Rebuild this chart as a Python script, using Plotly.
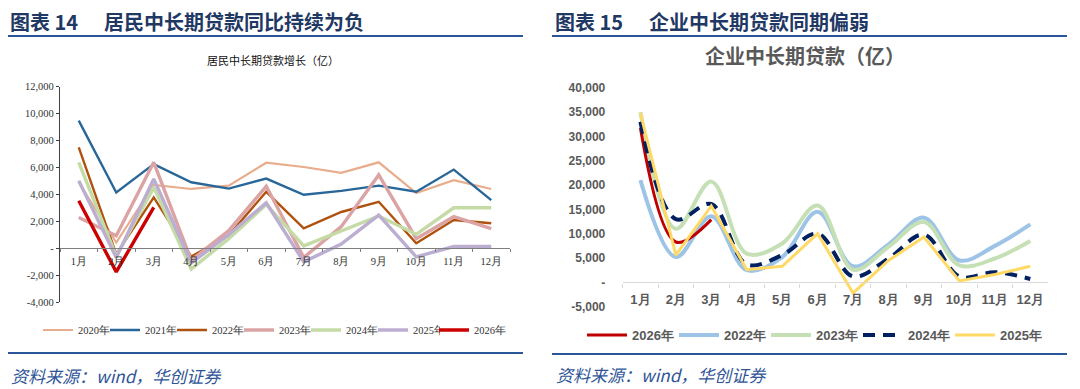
import plotly.graph_objects as go

# ---------------- data ----------------
months = ["1月", "2月", "3月", "4月", "5月", "6月", "7月", "8月", "9月", "10月", "11月", "12月"]

# 居民中长期贷款增长（亿）
hh_2020 = [4900, 420, 4700, 4400, 4650, 6350, 6030, 5600, 6380, 4100, 5050, 4400]
hh_2021 = [9480, 4140, 6250, 4900, 4430, 5170, 3970, 4260, 4650, 4200, 5840, 3570]
hh_2022 = [7490, -450, 3770, -620, 950, 4190, 1480, 2690, 3450, 370, 2090, 1850]
hh_2023 = [2280, 920, 6380, -900, 1300, 4600, -690, 1600, 5440, 710, 2340, 1450]
hh_2024 = [6380, -600, 4520, -1550, 700, 3250, 170, 1280, 2390, 1030, 3000, 3000]
hh_2025 = [5010, -700, 5140, -1100, 1000, 3370, -1010, 300, 2460, -640, 120, 120]
hh_2026 = [3520, -1760, 3030, None, None, None, None, None, None, None, None, None]

# 企业中长期贷款（亿）
co_2026 = [31700, 8300, 12900, None, None, None, None, None, None, None, None, None]
co_2022 = [21000, 5200, 13600, 2500, 5200, 14500, 3300, 7800, 13300, 4500, 7500, 11900]
co_2023 = [35000, 11000, 20700, 5900, 8000, 15800, 2600, 7300, 12400, 3500, 4900, 8500]
co_2024 = [33000, 13000, 16100, 3700, 5600, 10000, 1200, 4900, 9800, 1200, 2100, 700]
co_2025 = [34800, 5600, 15700, 2600, 3300, 10000, -2200, 4500, 9300, 300, 1600, 3300]

left_ticks = [-4000, -2000, 0, 2000, 4000, 6000, 8000, 10000, 12000]
right_ticks = [-5000, 0, 5000, 10000, 15000, 20000, 25000, 30000, 35000, 40000]

# ---------------- layout geometry ----------------
# the page body adds an 8px margin; the figure is sized / placed to compensate
OFF = 8
W, H = 1080 - OFF, 389 - OFF
def py(px):
    return 1 - (px - OFF) / H
def px_x(px):
    return (px - OFF) / W

L_dom_x = [px_x(60), px_x(510)]
L_dom_y = [py(302), py(86.7)]
L_rng = [-4000, 12000]
R_dom_x = [px_x(622.7), px_x(1048)]
R_dom_y = [py(306.7), py(87.7)]
R_rng = [-5000, 40000]

def zero_pos(dom, rng):
    return dom[0] + (0 - rng[0]) / (rng[1] - rng[0]) * (dom[1] - dom[0])

def fmt(v):
    if v == 0:
        return "-"
    return f"{v:,}"

fig = go.Figure()

serif = "Liberation Serif, Times New Roman, serif"
sans = "Liberation Sans, Arial, sans-serif"
cjk = "Noto Sans CJK SC"

left_series = [
    ("2020年", hh_2020, "#E9AC8C", 2.2, "legend"),
    ("2021年", hh_2021, "#2A6799", 2.4, "legend"),
    ("2022年", hh_2022, "#B0520F", 2.4, "legend"),
    ("2023年", hh_2023, "#DBA3A3", 3.4, "legend"),
    ("2024年", hh_2024, "#C5DBA6", 3.4, "legend"),
    ("2025年", hh_2025, "#BBAED1", 3.4, "legend"),
    ("2026年", hh_2026, "#CC0000", 3.4, "legend3"),
]
for name, vals, col, w, lg in left_series:
    fig.add_trace(go.Scatter(x=months, y=vals, name=name, mode="lines",
                             line=dict(color=col, width=w),
                             xaxis="x", yaxis="y", legend=lg,
                             connectgaps=False))

right_series = [  # (name, values, color, width, shape, dash, legendrank)
    ("2022年", co_2022, "#9DC3E6", 4, "spline", "solid", 2),
    ("2023年", co_2023, "#C5E0B4", 4, "spline", "solid", 3),
    ("2026年", co_2026, "#C00000", 3, "spline", "solid", 1),
    ("2024年", co_2024, "#002060", 4, "spline", "12px,8px", 4),
    ("2025年", co_2025, "#FFD966", 3, "linear", "solid", 5),
]
for name, vals, col, w, shp, dsh, rk in right_series:
    fig.add_trace(go.Scatter(x=months, y=vals, name=name, mode="lines",
                             line=dict(color=col, width=w, shape=shp, dash=dsh),
                             xaxis="x2", yaxis="y2", legend="legend2",
                             legendrank=rk, connectgaps=False))

left_leg_font = dict(family=serif, size=10.5, color="#333333")
fig.update_layout(
    template="none",
    width=W, height=H,
    margin=dict(l=0, r=0, t=0, b=0, pad=0),
    paper_bgcolor="white", plot_bgcolor="rgba(0,0,0,0)",
    showlegend=True,
    xaxis=dict(domain=L_dom_x, anchor="free", position=zero_pos(L_dom_y, L_rng),
               type="category", showline=True, linecolor="#7F7F7F", linewidth=1.3,
               ticks="outside", tickson="boundaries", ticklen=3, tickcolor="#7F7F7F",
               showgrid=False, zeroline=False, automargin=False, tickangle=0,
               ticklabelstandoff=3,
               tickfont=dict(family=serif, size=10.5, color="#333333"),
               range=[-0.5, 11.5]),
    yaxis=dict(domain=L_dom_y, range=L_rng, anchor="x",
               tickvals=left_ticks, ticktext=[fmt(v) for v in left_ticks],
               showline=True, linecolor="#404040", linewidth=1.2,
               ticks="outside", ticklen=3, tickcolor="#404040",
               showgrid=False, zeroline=False, automargin=False,
               tickfont=dict(family=serif, size=10.5, color="#333333")),
    xaxis2=dict(domain=R_dom_x, anchor="free", position=zero_pos(R_dom_y, R_rng),
                type="category", showline=True, linecolor="#D9D9D9", linewidth=1.3,
                ticks="outside", tickson="boundaries", ticklen=4, tickcolor="#D9D9D9",
                showgrid=False, zeroline=False, automargin=False, tickangle=0,
                ticklabelstandoff=5,
                tickfont=dict(family=sans, size=13, color="#595959", weight="bold"),
                range=[-0.5, 11.5]),
    yaxis2=dict(domain=R_dom_y, range=R_rng, anchor="x2",
                tickvals=right_ticks, ticktext=[fmt(v) for v in right_ticks],
                showline=False, ticks="outside", ticklen=14, tickcolor="rgba(0,0,0,0)",
                showgrid=False, zeroline=False, automargin=False,
                tickfont=dict(family=sans, size=12, color="#595959", weight="bold")),
    legend=dict(orientation="h", x=px_x(38), xanchor="left", y=py(330), yanchor="middle",
                font=left_leg_font,
                entrywidth=22, entrywidthmode="pixels", itemwidth=30,
                bgcolor="rgba(0,0,0,0)", borderwidth=0),
    legend3=dict(orientation="h", x=px_x(38 + 6 * 66), xanchor="left", y=py(330), yanchor="middle",
                 font=left_leg_font,
                 entrywidth=40, entrywidthmode="pixels", itemwidth=30,
                 bgcolor="rgba(0,0,0,0)", borderwidth=0),
    legend2=dict(orientation="h", x=px_x(812), xanchor="center", y=py(335), yanchor="middle",
                 font=dict(family=sans, size=13, color="#595959", weight="bold"),
                 entrywidth=37, entrywidthmode="pixels", itemwidth=40,
                 traceorder="normal",
                 bgcolor="rgba(0,0,0,0)", borderwidth=0),
)

line_col = "#2B579A"
shapes = [
    dict(type="line", xref="paper", yref="paper", x0=px_x(8), x1=px_x(523), y0=py(36), y1=py(36),
         line=dict(color=line_col, width=2)),
    dict(type="line", xref="paper", yref="paper", x0=px_x(552), x1=px_x(1067), y0=py(36), y1=py(36),
         line=dict(color=line_col, width=2)),
    dict(type="line", xref="paper", yref="paper", x0=px_x(8), x1=px_x(523), y0=py(353), y1=py(353),
         line=dict(color=line_col, width=2)),
    dict(type="line", xref="paper", yref="paper", x0=px_x(552), x1=px_x(1067), y0=py(354), y1=py(354),
         line=dict(color=line_col, width=2)),
]
fig.update_layout(shapes=shapes)

head_col = "#1F3864"
src_col = "#2F5597"
hfont = dict(family=cjk, size=20, color=head_col, weight="bold")
annos = [
    dict(text="图表 14", x=px_x(8), y=py(21), xanchor="left", yanchor="middle", font=hfont),
    dict(text="居民中长期贷款同比持续为负", x=px_x(102), y=py(21), xanchor="left", yanchor="middle",
         font=hfont),
    dict(text="图表 15", x=px_x(553), y=py(21), xanchor="left", yanchor="middle", font=hfont),
    dict(text="企业中长期贷款同期偏弱", x=px_x(647), y=py(21), xanchor="left", yanchor="middle",
         font=hfont),
    dict(text="居民中长期贷款增长（亿）", x=px_x(273), y=py(60), xanchor="center", yanchor="middle",
         font=dict(family=cjk, size=11, color="#111111")),
    dict(text="企业中长期贷款（亿）", x=px_x(805), y=py(55), xanchor="center", yanchor="middle",
         font=dict(family=cjk, size=20, color="#595959", weight="bold")),
    dict(text="<i>资料来源：wind，华创证券</i>", x=px_x(9), y=py(375), xanchor="left", yanchor="middle",
         font=dict(family=cjk, size=17, color=src_col)),
    dict(text="<i>资料来源：wind，华创证券</i>", x=px_x(554), y=py(374), xanchor="left", yanchor="middle",
         font=dict(family=cjk, size=17, color=src_col)),
]
for a in annos:
    a.update(xref="paper", yref="paper", showarrow=False)
fig.update_layout(annotations=annos)

fig.write_html("out.html")
